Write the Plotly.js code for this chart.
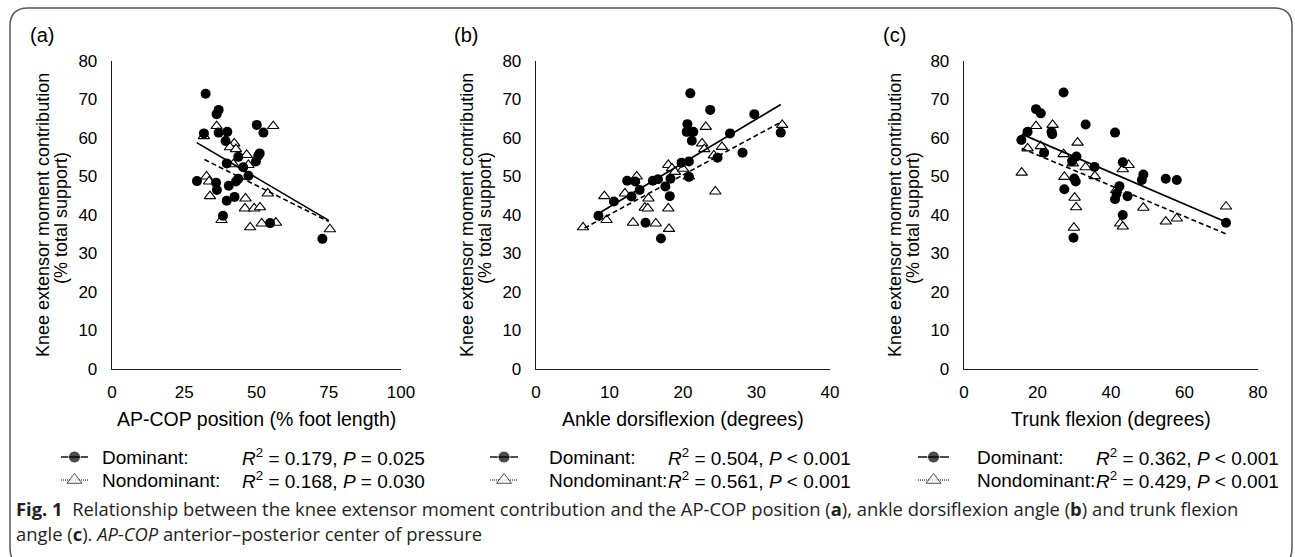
<!DOCTYPE html>
<html>
<head>
<meta charset="utf-8">
<script src="https://cdn.plot.ly/plotly-3.0.1.min.js"></script>
<style>html,body{margin:0;padding:0;background:#fff;}#chart{width:1295px;height:557px;}</style>
</head>
<body>
<div id="chart"></div>
<script>
// ---------- DATA ----------
// Panel (a): AP-COP position (% foot length)
const domA_x = [32.4,36.9,36.2,50.1,52.4,31.8,36.9,39.9,39.3,51.1,50.6,43.7,49.8,39.7,45.4,47.2,29.4,36.0,43.7,42.9,40.4,36.3,42.4,39.7,38.4,54.7,72.8];
const domA_y = [71.5,67.3,66.2,63.4,61.4,61.2,61.4,61.6,59.2,56.0,55.4,55.1,53.9,53.4,52.4,50.2,48.8,48.4,49.4,48.7,47.6,46.5,44.7,43.7,39.8,37.9,33.8];
const nonA_x = [31.8,36.2,55.8,42.3,40.8,42.9,46.6,42.0,47.2,32.7,33.6,33.9,46.2,46.0,49.2,51.2,53.9,37.9,47.8,51.8,56.7,75.4];
const nonA_y = [60.5,63.1,63.1,58.6,57.6,57.1,55.6,53.2,53.0,50.0,48.7,44.9,44.3,41.7,41.7,42.0,45.6,38.7,36.8,37.8,38.0,36.3];
const trendDomA_x = [29.3, 75.0], trendDomA_y = [58.8, 38.6];
const trendNonA_x = [32.0, 75.0], trendNonA_y = [54.4, 38.3];

// Panel (b): Ankle dorsiflexion (degrees)
const domB_x = [21.0,23.7,29.7,20.6,20.5,21.4,21.2,26.4,33.3,28.1,24.7,19.8,20.8,20.8,18.3,16.6,15.9,12.4,13.5,14.1,17.6,18.2,13.0,10.6,8.5,14.9,17.0];
const domB_y = [71.6,67.3,66.2,63.6,61.6,61.6,59.3,61.2,61.4,56.2,54.9,53.6,53.9,49.9,49.4,49.3,48.9,48.9,48.7,46.5,47.4,44.9,44.8,43.5,39.8,38.0,33.9];
const nonB_x = [23.1,33.5,22.6,22.9,25.3,24.2,18.0,18.5,18.9,20.0,13.7,12.1,9.3,15.3,14.8,15.2,18.0,9.6,13.2,16.3,18.1,6.4,24.4,20.8];
const nonB_y = [62.9,63.4,58.6,57.1,57.7,55.5,53.0,52.1,51.2,52.0,50.0,45.6,44.9,44.3,41.9,41.7,41.7,38.7,38.0,37.8,36.4,36.8,46.1,50.0];
const trendDomB_x = [8.5, 33.3], trendDomB_y = [40.4, 68.7];
const trendNonB_x = [6.6, 33.3], trendNonB_y = [36.6, 64.1];

// Panel (c): Trunk flexion (degrees)
const domC_x = [27.1,19.6,20.9,33.1,41.1,23.8,24.0,17.3,15.6,21.8,30.6,29.4,35.5,43.2,48.8,48.4,54.9,57.9,30.0,30.4,27.3,42.3,44.5,41.1,41.5,43.2,29.8,71.3];
const domC_y = [71.8,67.5,66.4,63.5,61.4,61.6,61.0,61.6,59.5,56.2,55.2,54.0,52.5,53.7,50.5,49.1,49.4,49.1,49.5,48.7,46.7,47.5,44.9,44.1,45.5,40.0,34.1,38.0];
const nonC_x = [15.7,17.3,19.6,24.1,20.9,27.1,30.9,29.6,33.1,35.6,27.3,30.1,30.5,29.9,43.2,44.8,41.4,48.8,42.5,43.2,54.9,57.9,71.3];
const nonC_y = [51.0,57.3,63.1,63.4,57.9,55.8,58.8,53.4,52.4,50.1,49.9,44.5,42.0,36.7,51.9,53.0,46.5,41.9,37.8,37.0,38.3,39.1,42.2];
const trendDomC_x = [15.7, 71.3], trendDomC_y = [61.0, 38.2];
const trendNonC_x = [15.7, 71.3], trendNonC_y = [57.3, 35.1];

// Tick labels
const xTicksA = [0,25,50,75,100];
const xTicksB = [0,10,20,30,40];
const xTicksC = [0,20,40,60,80];
const yTicks = [0,10,20,30,40,50,60,70,80];

// Texts
const panelLabels = ['(a)','(b)','(c)'];
const xTitles = ['AP-COP position (% foot length)','Ankle dorsiflexion (degrees)','Trunk flexion (degrees)'];
const yTitle1 = 'Knee extensor moment contribution';
const yTitle2 = '(% total support)';
const seriesNames = ['Dominant:','Nondominant:'];
const statsDom = ['<i>R</i><sup>2</sup> = 0.179, <i>P</i> = 0.025','<i>R</i><sup>2</sup> = 0.504, <i>P</i> &lt; 0.001','<i>R</i><sup>2</sup> = 0.362, <i>P</i> &lt; 0.001'];
const statsNon = ['<i>R</i><sup>2</sup> = 0.168, <i>P</i> = 0.030','<i>R</i><sup>2</sup> = 0.561, <i>P</i> &lt; 0.001','<i>R</i><sup>2</sup> = 0.429, <i>P</i> &lt; 0.001'];
const caption1 = '<b>Fig. 1</b>\u00a0\u00a0Relationship between the knee extensor moment contribution and the AP-COP position (<b>a</b>), ankle dorsiflexion angle (<b>b</b>) and trunk flexion';
const caption2 = 'angle (<b>c</b>). <i>AP-COP</i> anterior\u2013posterior center of pressure';

// ---------- LAYOUT ----------
const W = 1295, H = 557;
const FONT = 'Liberation Sans, Arial, sans-serif';
const CAPFONT = 'Open Sans, Noto Sans, sans-serif';
const axL = [112, 536, 964], axR = [401, 830, 1258];
const plotTop = 61, plotBot = 369;
const legSym = [[61,88],[490,518],[918,949]];
const legTextX = [100, 547, 975];
const legEndX = [427, 853, 1281];
const row1 = 457, row2 = 480;

const sets = [
  {dx:domA_x, dy:domA_y, nx:nonA_x, ny:nonA_y, tdx:trendDomA_x, tdy:trendDomA_y, tnx:trendNonA_x, tny:trendNonA_y, range:[0,100], ticks:xTicksA},
  {dx:domB_x, dy:domB_y, nx:nonB_x, ny:nonB_y, tdx:trendDomB_x, tdy:trendDomB_y, tnx:trendNonB_x, tny:trendNonB_y, range:[0,40], ticks:xTicksB},
  {dx:domC_x, dy:domC_y, nx:nonC_x, ny:nonC_y, tdx:trendDomC_x, tdy:trendDomC_y, tnx:trendNonC_x, tny:trendNonC_y, range:[0,80], ticks:xTicksC}
];

const data = [];
const layout = {
  width: W, height: H,
  margin: {l:0, r:0, t:0, b:0},
  paper_bgcolor: '#ffffff', plot_bgcolor: 'rgba(0,0,0,0)',
  showlegend: false,
  annotations: [], shapes: []
};

sets.forEach((s, i) => {
  const n = i + 1;
  const xa = n === 1 ? 'x' : 'x' + n, ya = n === 1 ? 'y' : 'y' + n;
  const xk = n === 1 ? 'xaxis' : 'xaxis' + n, yk = n === 1 ? 'yaxis' : 'yaxis' + n;
  const common = {showline:true, linecolor:'#1a1a1a', linewidth:1.3, showgrid:false, zeroline:false,
    ticks:'', tickfont:{family:FONT, size:17, color:'#000'}, fixedrange:true};
  layout[xk] = Object.assign({}, common, {domain:[axL[i]/W, axR[i]/W], range:s.range, tickvals:s.ticks,
    ticktext:s.ticks.map(String), anchor:ya, ticklabelstandoff:7});
  layout[yk] = Object.assign({}, common, {domain:[1-plotBot/H, 1-plotTop/H], range:[0,80], tickvals:yTicks,
    ticktext:yTicks.map(String), anchor:xa, ticklabelstandoff:10});

  data.push({x:s.nx, y:s.ny, xaxis:xa, yaxis:ya, type:'scatter', mode:'markers',
    marker:{symbol:'triangle-up', size:10, color:'#ffffff', line:{color:'#000', width:1.1}}});
  data.push({x:s.dx, y:s.dy, xaxis:xa, yaxis:ya, type:'scatter', mode:'markers',
    marker:{symbol:'circle', size:10, color:'#000', line:{width:0}}});
  data.push({x:s.tdx, y:s.tdy, xaxis:xa, yaxis:ya, type:'scatter', mode:'lines',
    line:{color:'#000', width:1.7}});
  data.push({x:s.tnx, y:s.tny, xaxis:xa, yaxis:ya, type:'scatter', mode:'lines',
    line:{color:'#000', width:1.6, dash:'5px,3px'}});

  // legend symbols (pixel overlay axes)
  const [s0, s1] = legSym[i], sc = (s0 + s1) / 2;
  data.push({x:[s0, sc, s1], y:[row1,row1,row1], xaxis:'x4', yaxis:'y4', type:'scatter', mode:'lines+markers',
    line:{color:'#000', width:1.4}, marker:{symbol:'circle', size:[0,12,0], color:'#000'}});
  data.push({x:[s0, sc, s1], y:[row2,row2,row2], xaxis:'x4', yaxis:'y4', type:'scatter', mode:'lines+markers',
    line:{color:'#000', width:1, dash:'1px,1px'}, marker:{symbol:'triangle-up', size:[0,13,0], color:'#fff', line:{color:'#000', width:1}}});

  const A = (o) => layout.annotations.push(Object.assign({xref:'x4', yref:'y4', showarrow:false}, o));
  A({x:axL[i]-70, y:35, text:panelLabels[i], font:{family:FONT, size:20, color:'#000'}, xanchor:'center', yanchor:'middle'});
  A({x:axL[i]-69, y:215, text:yTitle1, textangle:-90, font:{family:FONT, size:18, color:'#000'}, xanchor:'center', yanchor:'middle'});
  A({x:axL[i]-51, y:218, text:yTitle2, textangle:-90, font:{family:FONT, size:18, color:'#000'}, xanchor:'center', yanchor:'middle'});
  A({x:(axL[i]+axR[i])/2, y:419, text:xTitles[i], font:{family:FONT, size:19.5, color:'#000'}, xanchor:'center', yanchor:'middle'});
  A({x:legTextX[i], y:row1, text:seriesNames[0], font:{family:FONT, size:19, color:'#000'}, xanchor:'left', yanchor:'middle'});
  A({x:legTextX[i], y:row2, text:seriesNames[1], font:{family:FONT, size:19, color:'#000'}, xanchor:'left', yanchor:'middle'});
  A({x:legEndX[i], y:row1, text:statsDom[i], font:{family:FONT, size:19, color:'#000'}, xanchor:'right', yanchor:'middle'});
  A({x:legEndX[i], y:row2, text:statsNon[i], font:{family:FONT, size:19, color:'#000'}, xanchor:'right', yanchor:'middle'});
});

// pixel overlay axes
layout.xaxis4 = {domain:[0,1], range:[0,W], visible:false, fixedrange:true, anchor:'y4'};
layout.yaxis4 = {domain:[0,1], range:[H,0], visible:false, fixedrange:true, anchor:'x4'};

// caption
layout.annotations.push({xref:'x4', yref:'y4', x:14, y:508, text:caption1, showarrow:false, xanchor:'left', yanchor:'middle',
  font:{family:CAPFONT, size:18.4, color:'#231f20'}});
layout.annotations.push({xref:'x4', yref:'y4', x:14, y:533, text:caption2, showarrow:false, xanchor:'left', yanchor:'middle',
  font:{family:CAPFONT, size:18.4, color:'#231f20'}});

// rounded frame
const r = 18, L = 10, T = 8, R = 1292, B = 566;
layout.shapes.push({type:'path', xref:'x4', yref:'y4', layer:'above',
  path:`M ${L},${T+r} Q ${L},${T} ${L+r},${T} L ${R-r},${T} Q ${R},${T} ${R},${T+r} L ${R},${B-r} Q ${R},${B} ${R-r},${B} L ${L+r},${B} Q ${L},${B} ${L},${B-r} Z`,
  line:{color:'#5a5a5a', width:1.5}, fillcolor:'rgba(0,0,0,0)'});

Plotly.newPlot('chart', data, layout, {staticPlot:true, displayModeBar:false});
</script>
</body>
</html>
